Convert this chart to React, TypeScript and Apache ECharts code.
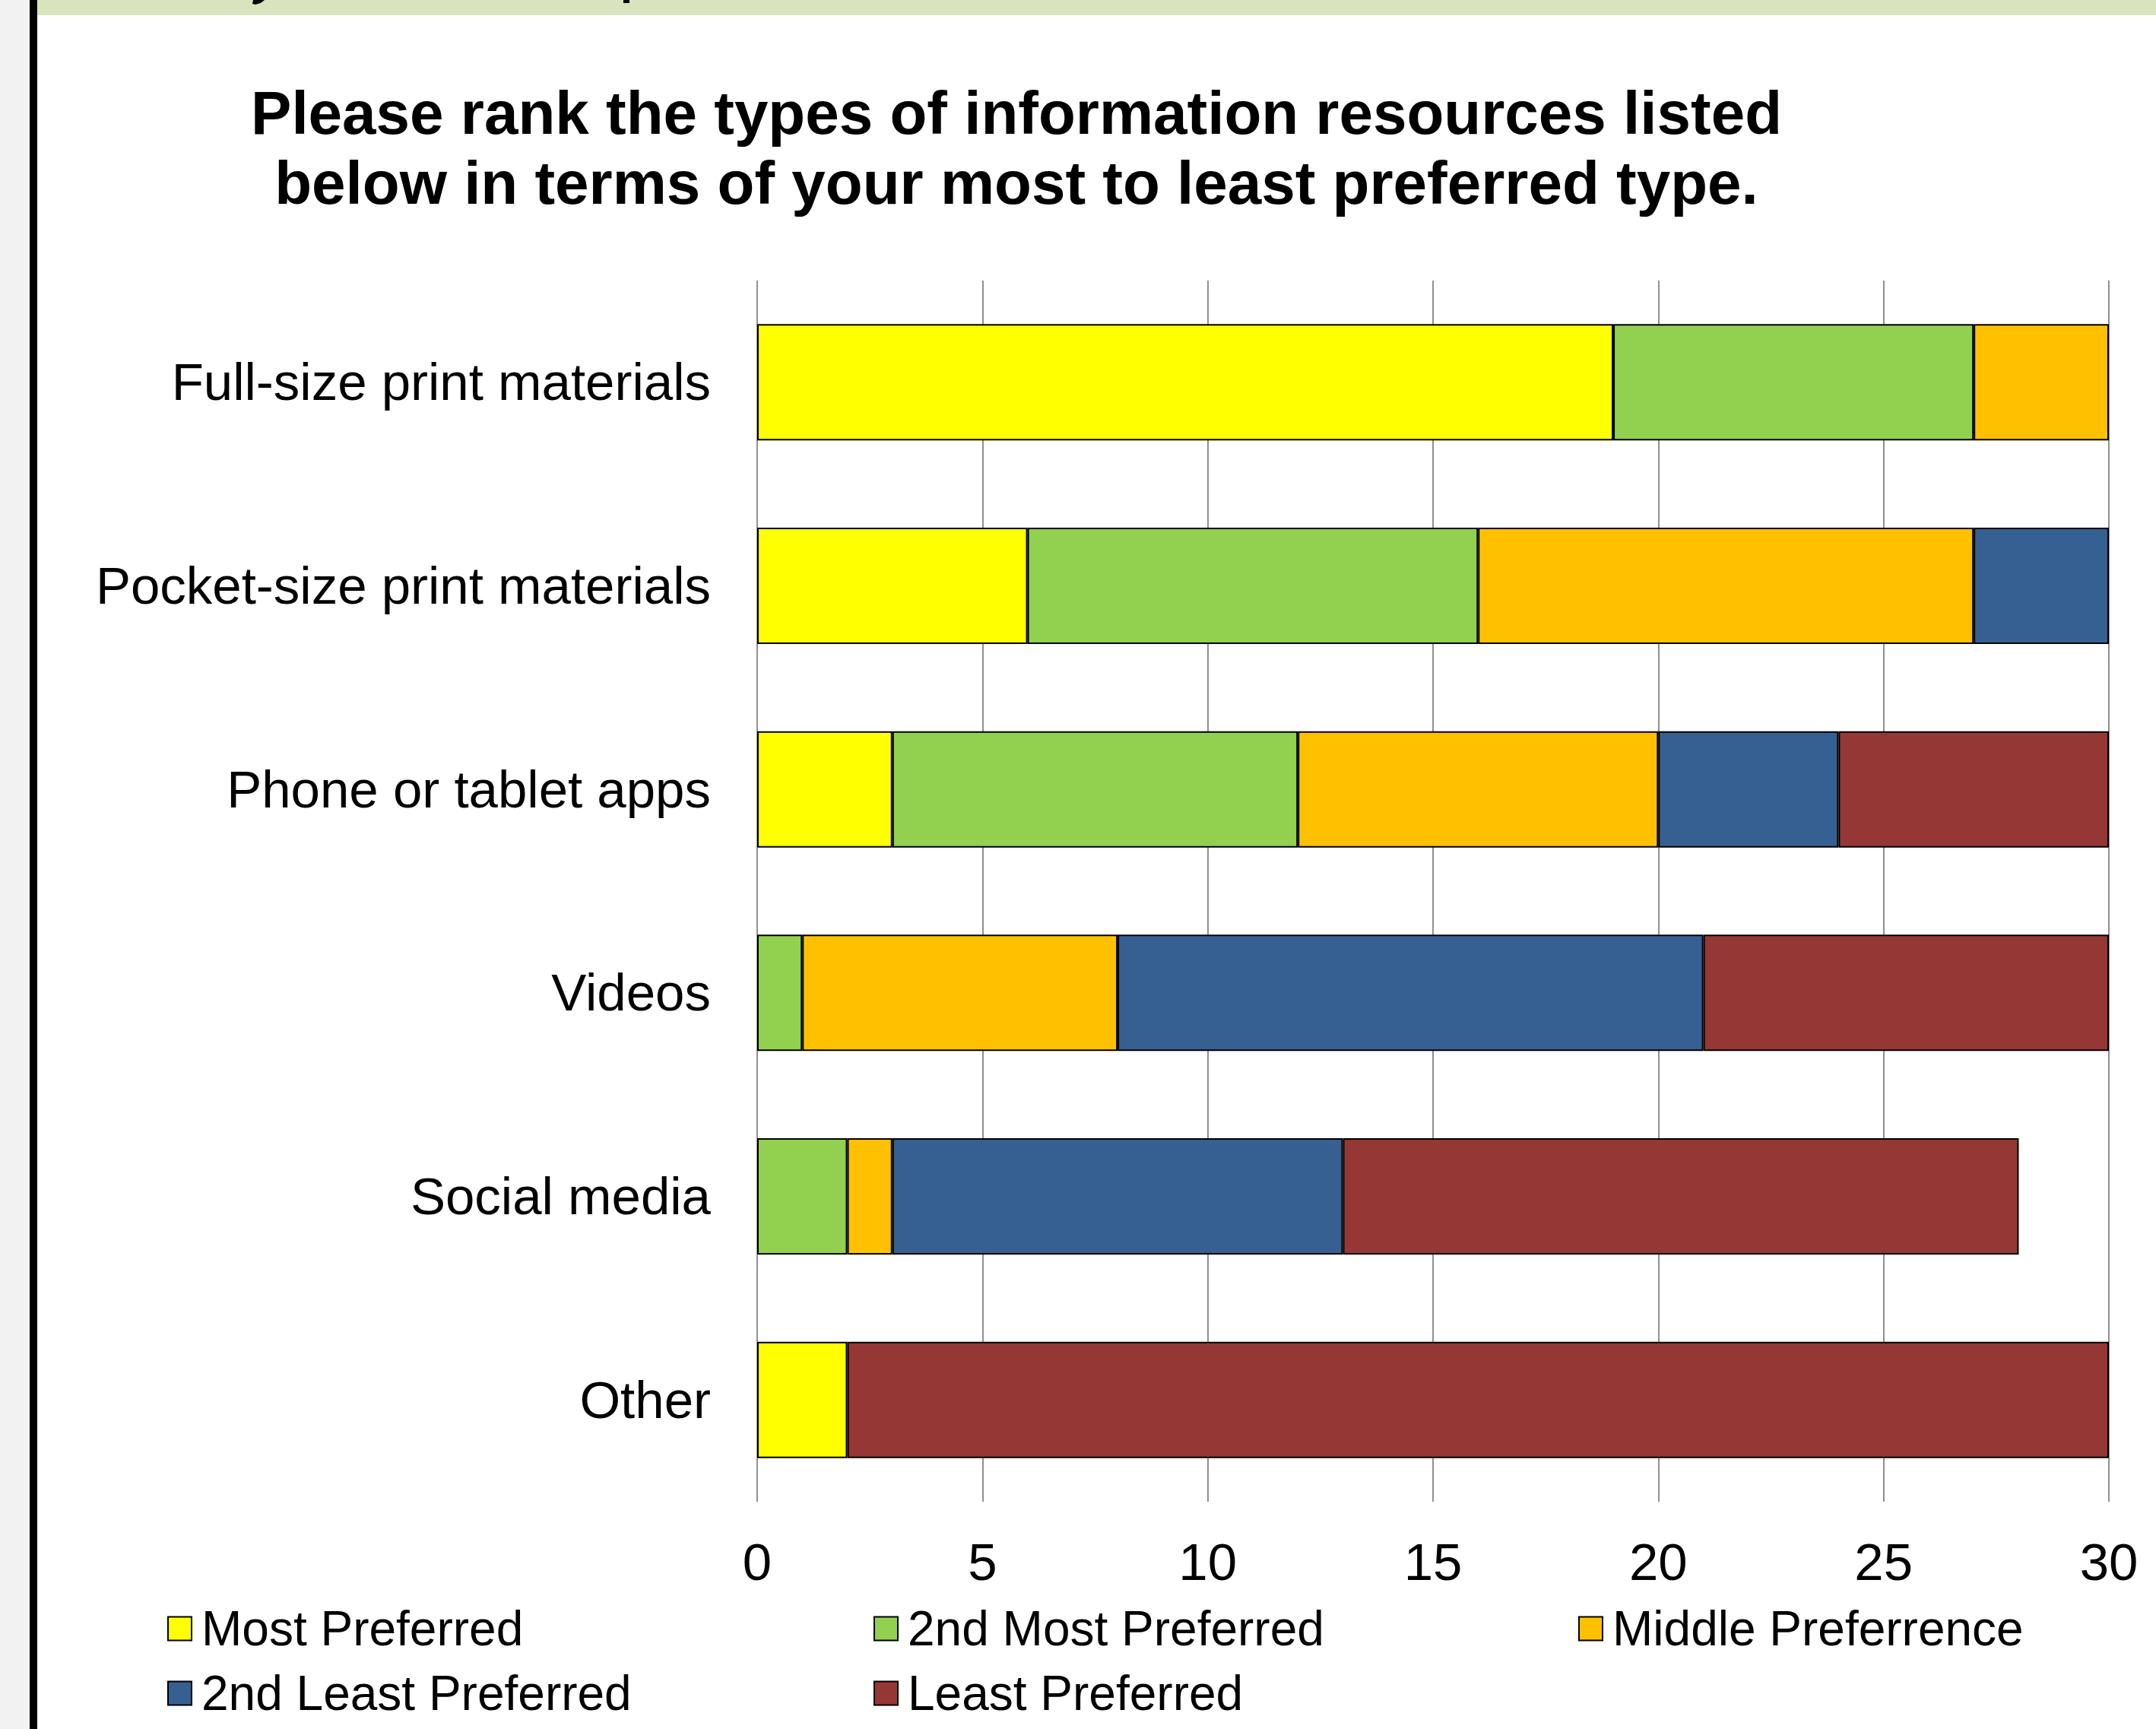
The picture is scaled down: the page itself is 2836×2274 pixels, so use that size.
import React, { useEffect, useRef } from "react";
import * as echarts from "echarts";

const categories = [
  "Full-size print materials",
  "Pocket-size print materials",
  "Phone or tablet apps",
  "Videos",
  "Social media",
  "Other",
];

const seriesNames = [
  "Most Preferred",
  "2nd Most Preferred",
  "Middle Preferrence",
  "2nd Least Preferred",
  "Least Preferred",
];

const mostPreferred = [19, 6, 3, 0, 0, 2];
const secondMostPreferred = [8, 10, 9, 1, 2, 0];
const middlePreference = [3, 11, 8, 7, 1, 0];
const secondLeastPreferred = [0, 3, 4, 13, 10, 0];
const leastPreferred = [0, 0, 6, 9, 15, 28];

const xTicks = { min: 0, max: 30, interval: 5 };

const colors = ["#FFFF00", "#92D050", "#FFC000", "#376092", "#953735"];

const titleText =
  "Please rank the types of information resources listed\nbelow in terms of your most to least preferred type.";

const FONT = "Liberation Sans";

export default function App() {
  const ref = useRef<HTMLDivElement>(null);

  useEffect(() => {
    document.body.style.margin = "0";
    if (!ref.current) return;
    const chart = echarts.init(ref.current, undefined, { renderer: "svg" });
    const allValues = [
      mostPreferred,
      secondMostPreferred,
      middlePreference,
      secondLeastPreferred,
      leastPreferred,
    ];
    const series = allValues.map((vals, i) => ({
      name: seriesNames[i],
      type: "bar",
      stack: "total",
      barWidth: 153,
      data: vals.map((v) => (v === 0 ? "-" : v)),
      itemStyle: { color: colors[i], borderColor: "#000", borderWidth: 2 },
    }));

    const legendPos = [
      { left: 220, top: 2110 },
      { left: 1149, top: 2110 },
      { left: 2076, top: 2110 },
      { left: 220, top: 2195 },
      { left: 1149, top: 2195 },
    ];

    const legends = seriesNames.map((n, i) => ({
      data: [n],
      left: legendPos[i].left,
      top: legendPos[i].top,
      padding: 0,
      icon: "rect",
      itemWidth: 31,
      itemHeight: 31,
      textStyle: {
        fontSize: 64,
        color: "#000",
        fontFamily: FONT,
        lineHeight: 64,
        padding: [0, 0, 0, 8],
      },
      selectedMode: false,
    }));

    chart.setOption({
      animation: false,
      backgroundColor: "#ffffff",
      textStyle: { fontFamily: FONT },
      grid: { left: 996, right: 62, top: 369, bottom: 299, containLabel: false },
      xAxis: {
        type: "value",
        min: xTicks.min,
        max: xTicks.max,
        interval: xTicks.interval,
        axisLine: { show: false },
        axisTick: { show: false },
        axisLabel: { fontSize: 69, color: "#000", margin: 45, fontFamily: FONT },
        splitLine: { show: true, lineStyle: { color: "#909090", width: 2 } },
      },
      yAxis: {
        type: "category",
        inverse: true,
        data: categories,
        axisLine: { show: false },
        axisTick: { show: false },
        axisLabel: { fontSize: 69, color: "#000", margin: 61, fontFamily: FONT },
        splitLine: { show: false },
      },
      legend: legends,
      series,
      graphic: [
        { type: "rect", shape: { x: 0, y: 0, width: 39, height: 2274 }, style: { fill: "#f2f2f2" }, z: 100 },
        { type: "rect", shape: { x: 39, y: 0, width: 10, height: 2274 }, style: { fill: "#000" }, z: 100 },
        { type: "rect", shape: { x: 49, y: 0, width: 2787, height: 20 }, style: { fill: "#d9e4bf" }, z: 100 },
        {
          type: "polygon",
          z: 101,
          shape: { points: [[333, 0], [348, 0], [343, 4], [336, 6], [332, 5]] },
          style: { fill: "#000" },
        },
        {
          type: "rect",
          z: 101,
          shape: { x: 820, y: 0, width: 8, height: 4 },
          style: { fill: "#000" },
        },
        {
          type: "text",
          x: 1337,
          y: 102,
          z: 101,
          style: {
            text: titleText,
            fontSize: 80,
            fontWeight: "bold",
            fontFamily: FONT,
            lineHeight: 92,
            fill: "#000",
            align: "center",
            verticalAlign: "top",
          },
        },
      ],
    });
    return () => chart.dispose();
  }, []);

  return (
    <div
      ref={ref}
      style={{ position: "absolute", left: 0, top: 0, width: 2836, height: 2274 }}
    />
  );
}
